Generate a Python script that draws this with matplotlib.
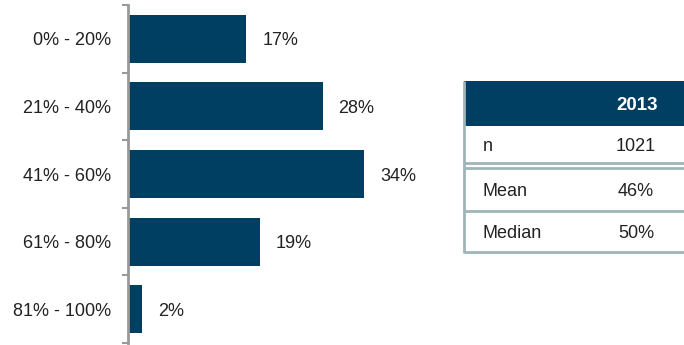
import matplotlib.pyplot as plt
import numpy as np
from matplotlib.patches import Rectangle

plt.rcParams['font.family'] = ['Liberation Sans', 'DejaVu Sans']

# distribution of answers
categories = ['0% - 20%', '21% - 40%', '41% - 60%', '61% - 80%', '81% - 100%']
shares = [17, 28, 34, 19, 2]

# summary table
table_year = '2013'
table_rows = [('n', '1021'), ('Mean', '46%'), ('Median', '50%')]

navy = '#003f62'
grey = '#999999'
border = '#9fb5b7'
fs = 13

W, H = 684, 345
fig = plt.figure(figsize=(W / 100, H / 100), dpi=100)

# bar chart
ax = fig.add_axes([128 / W, 2 / H, 330 / W, 338 / H])
y = np.arange(len(categories))
ax.barh(y, shares, height=0.71, color=navy)
ax.set_ylim(len(categories) - 0.5, -0.5)
ax.set_xlim(0, 330 / 6.95)
for s in ['top', 'right', 'bottom']:
    ax.spines[s].set_visible(False)
ax.spines['left'].set_color(grey)
ax.spines['left'].set_linewidth(2)
ax.set_xticks([])
ax.set_yticks(y)
ax.set_yticklabels(categories, fontsize=fs, color='#222222', va='center_baseline')
ax.tick_params(axis='y', which='major', length=0, pad=12)
ax.set_yticks(np.arange(-0.5, len(categories)), minor=True)
ax.tick_params(axis='y', which='minor', length=4, width=1.5, color=grey)
for yi, v in zip(y, shares):
    ax.annotate(f'{v}%', (v, yi), xytext=(16, 0), textcoords='offset pixels',
                va='center_baseline', ha='left', fontsize=fs, color='#222222')

# summary table, drawn in pixel space
tx = fig.add_axes([0, 0, 1, 1], zorder=-1)
tx.set_xlim(0, W)
tx.set_ylim(H, 0)
tx.axis('off')
left, right = 464, 684
top, head_bot = 81, 126
tx.add_patch(Rectangle((left, top), right - left, head_bot - top, color=navy, lw=0))
tx.text(637, (top + head_bot) / 2, table_year, color='white', fontsize=13.5,
        fontweight='bold', ha='center', va='center_baseline')
row_edges = [(126, 163), (168, 210.5), (210.5, 251.5)]
for (lab, val), (r0, r1) in zip(table_rows, row_edges):
    yc = (r0 + r1) / 2
    tx.text(483, yc, lab, fontsize=fs, ha='left', va='center_baseline', color='#222222')
    tx.text(636, yc, val, fontsize=fs, ha='center', va='center_baseline', color='#222222')
for yl in [163, 168, 210.5, 251.5]:
    tx.plot([left, right], [yl, yl], color=border, lw=2, solid_capstyle='butt')
tx.plot([left, left], [top, 252.5], color=border, lw=2, solid_capstyle='butt')

fig.savefig('out.png', dpi=100)
